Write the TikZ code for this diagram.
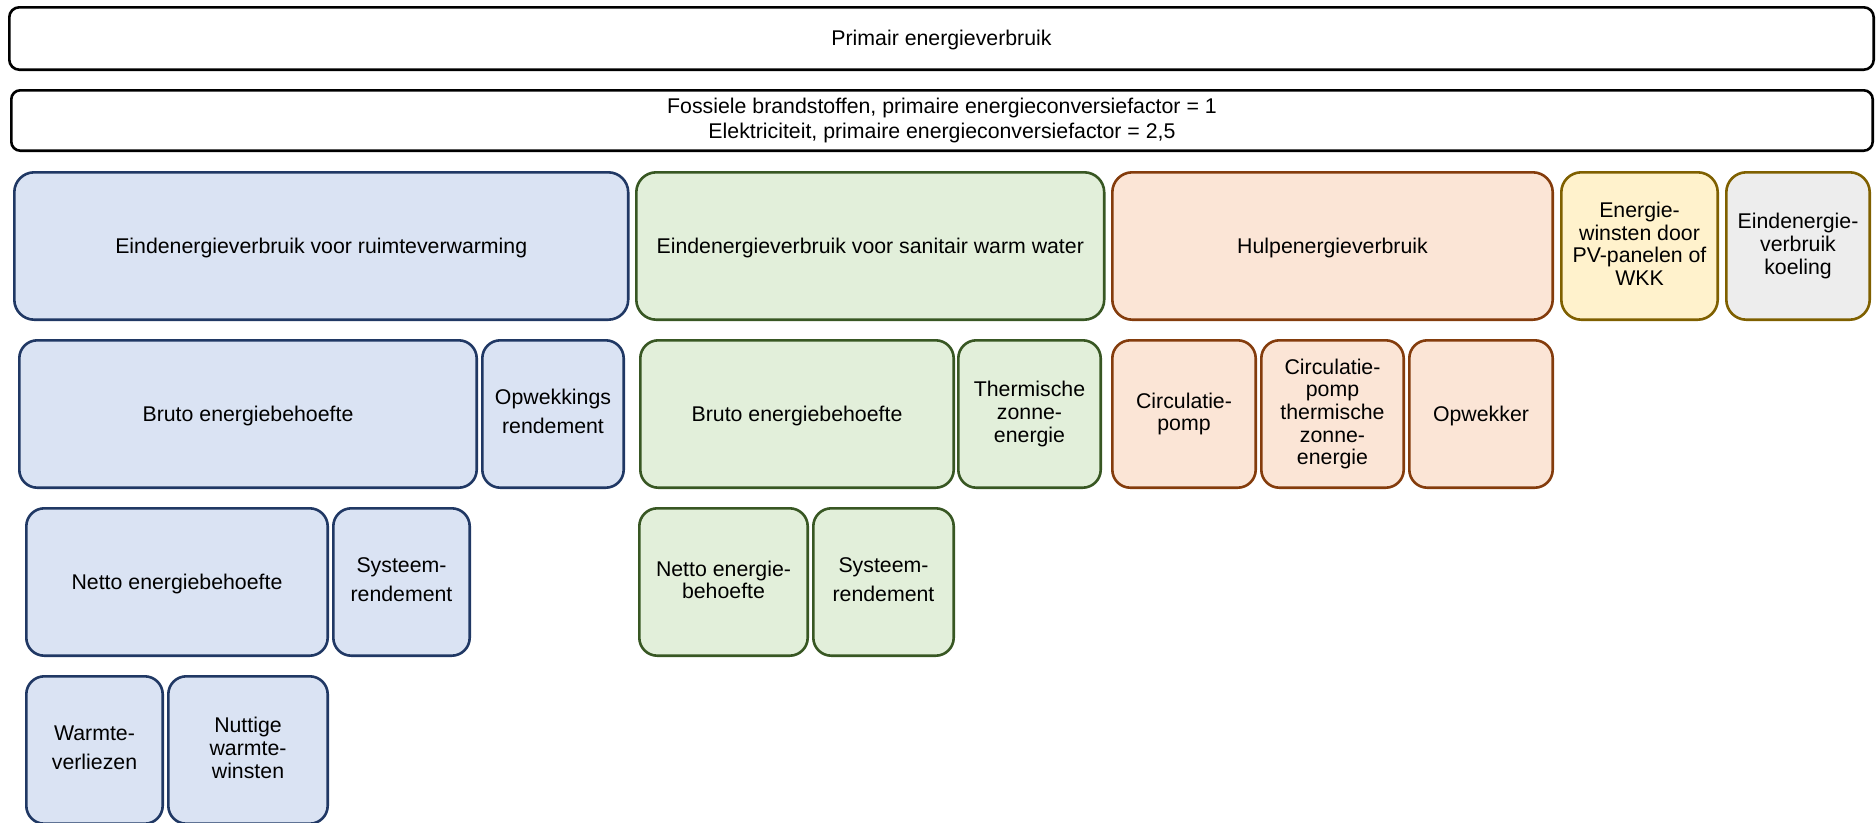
\documentclass[tikz,border=0pt]{standalone}
\usepackage{fontspec}
\setmainfont{Liberation Sans}
\definecolor{blueF}{HTML}{DAE3F3}\definecolor{blueD}{HTML}{203864}
\definecolor{greenF}{HTML}{E2EFDA}\definecolor{greenD}{HTML}{385723}
\definecolor{orangeF}{HTML}{FBE5D6}\definecolor{orangeD}{HTML}{843C0C}
\definecolor{yellowF}{HTML}{FFF2CC}\definecolor{yellowD}{HTML}{7F6000}
\definecolor{greyF}{HTML}{EDEDED}
\begin{document}
\begin{tikzpicture}[x=1pt,y=-1pt,
  box/.style={rectangle, line width=2.6pt, rounded corners=18pt, align=center,
    inner sep=0pt, outer sep=0pt, text=black,
    font=\fontsize{21.3}{22.6}\selectfont,
    % full ascent/descent struts so every line box is centred like a text frame
    execute at begin node={\rule{0pt}{19.3pt}},
    execute at end node={\rule[-4.5pt]{0pt}{4.5pt}}},
  loose/.style={font=\fontsize{21.3}{29}\selectfont},
  topbox/.style={box, draw=black, fill=white, rounded corners=9pt},
  rvbox/.style={box, draw=blueD, fill=blueF},
  swwbox/.style={box, draw=greenD, fill=greenF},
  hulpbox/.style={box, draw=orangeD, fill=orangeF},
  pvbox/.style={box, draw=yellowD, fill=yellowF},
  koelbox/.style={box, draw=yellowD, fill=greyF},
  sz/.style 2 args={minimum width=#1pt, minimum height=#2pt}]
\useasboundingbox (0,0) rectangle (1876,822);
\clip (0,0) rectangle (1876,822);

% primary energy and conversion factors
\node[topbox, sz={1864.4}{62.4}, rounded corners=10pt] (prim) at (941.5,38.5) {Primair energieverbruik};
\node[topbox, sz={1861.4}{60.4}, font=\fontsize{21.3}{25}\selectfont] (conv) at (942,120.5)
  {Fossiele brandstoffen, primaire energieconversiefactor = 1\\Elektriciteit, primaire energieconversiefactor = 2,5};

% final energy use per post
\node[rvbox, sz={613.9}{147.4}, rounded corners=20pt] (rv) at (321.25,246) {Eindenergieverbruik voor ruimteverwarming};
\node[swwbox, sz={467.9}{147.4}, rounded corners=20pt] (sww) at (870.25,246) {Eindenergieverbruik voor sanitair warm water};
\node[hulpbox, sz={440.4}{147.4}, rounded corners=20pt] (hulp) at (1332.5,246) {Hulpenergieverbruik};
\node[pvbox, sz={156.4}{147.4}, rounded corners=20pt] (pv) at (1639.5,246) {Energie-\\winsten door\\PV-panelen of\\WKK};
\node[koelbox, sz={143.4}{147.4}, rounded corners=20pt] (koel) at (1798,246) {Eindenergie-\\verbruik\\koeling};

% second level
\node[rvbox, sz={457.4}{147.4}] (rvbruto) at (248,414) {Bruto energiebehoefte};
\node[rvbox, loose, sz={141.4}{147.4}] (rvopw) at (553,414) {Opwekkings\\rendement};
\node[swwbox, sz={313.4}{147.4}] (swwbruto) at (797,414) {Bruto energiebehoefte};
\node[swwbox, sz={142.4}{147.4}] (swwzon) at (1029.5,414) {Thermische\\zonne-\\energie};
\node[hulpbox, sz={143.4}{147.4}] (circ) at (1184,414) {Circulatie-\\pomp};
\node[hulpbox, sz={142.4}{147.4}] (circzon) at (1332.5,414) {Circulatie-\\pomp\\thermische\\zonne-\\energie};
\node[hulpbox, sz={143.4}{147.4}] (opwekker) at (1481,414) {Opwekker};

% third level
\node[rvbox, sz={301.4}{147.4}] (rvnetto) at (177,582) {Netto energiebehoefte};
\node[rvbox, loose, sz={136.4}{147.4}] (rvsys) at (401.5,582) {Systeem-\\rendement};
\node[swwbox, sz={168.4}{147.4}] (swwnetto) at (723.5,582) {Netto energie-\\behoefte};
\node[swwbox, loose, sz={140.4}{147.4}] (swwsys) at (883.5,582) {Systeem-\\rendement};

% fourth level
\node[rvbox, loose, sz={136.4}{147.4}] (verlies) at (94.5,750) {Warmte-\\verliezen};
\node[rvbox, sz={159.4}{147.4}] (winst) at (248,750) {Nuttige\\warmte-\\winsten};
\end{tikzpicture}
\end{document}
